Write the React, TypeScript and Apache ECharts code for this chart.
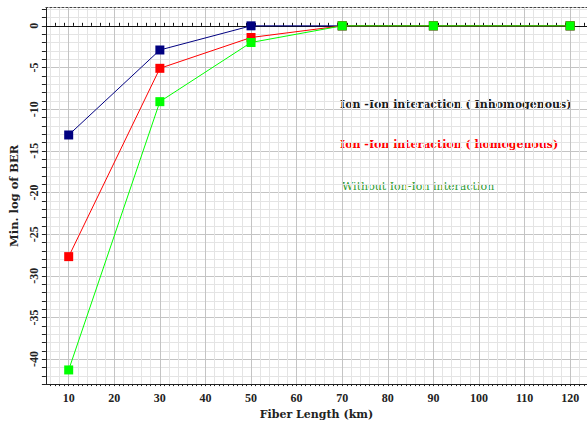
import React, { useEffect, useRef } from "react";
import * as echarts from "echarts";

const fiberLengths = [10, 30, 50, 70, 90, 120];
const inhomogenous = [-13.1, -2.9, 0, 0, 0, 0];
const homogenous = [-27.7, -5.1, -1.4, 0, 0, 0];
const withoutInteraction = [-41.3, -9.1, -2.0, 0, 0, 0];
const seriesNames = [
  "Ion -Ion interaction ( Inhomogenous)",
  "Ion -Ion interaction ( homogenous)",
  "Without Ion-Ion interaction",
];

const X_MIN = 5;
const X_MAX = 123.7;
const Y_MIN = -43;
const Y_MAX = 2.2;

const FONT = "'Liberation Serif', 'Times New Roman', serif";
const WIDE = "'DejaVu Serif', serif";
const MAJOR = "#c4c4c4";
const MINOR = "#e4e4e4";

export default function App() {
  const ref = useRef<HTMLDivElement>(null);
  useEffect(() => {
    document.body.style.margin = "0";
    const chart = echarts.init(ref.current!, null, { renderer: "svg" });
    const pts = (ys: number[]) => fiberLengths.map((x, i) => [x, ys[i]]);
    const mkSeries = (name: string, ys: number[], color: string) => ({
      name,
      type: "line",
      xAxisIndex: 0,
      yAxisIndex: 0,
      data: pts(ys),
      symbol: "rect",
      symbolSize: 9,
      lineStyle: { color, width: 1 },
      itemStyle: { color },
      emphasis: { disabled: true },
    });
    const xCommon = { type: "value", min: X_MIN, max: X_MAX, interval: 1 };
    chart.setOption({
      animation: false,
      backgroundColor: "#ffffff",
      grid: { left: 44, right: 0, top: 7.5, bottom: 35.5 },
      xAxis: [
        {
          ...xCommon,
          position: "bottom",
          name: "Fiber Length (km)",
          nameLocation: "middle",
          nameGap: 21,
          nameTextStyle: { fontFamily: WIDE, fontWeight: "bold", fontSize: 11, color: "#222" },
          axisLine: { onZero: false, lineStyle: { color: "#222", width: 1 } },
          axisTick: { show: true, length: 2, lineStyle: { color: "#222" } },
          axisLabel: {
            margin: 8,
            fontFamily: FONT,
            fontWeight: "bold",
            fontSize: 12,
            color: "#222",
            showMinLabel: false,
            showMaxLabel: false,
            formatter: (v: number) => (v % 10 === 0 ? String(v) : ""),
          },
          splitLine: {
            show: true,
            lineStyle: {
              width: 1,
              color: [
                "transparent", MINOR, "transparent", MINOR, "transparent",
                MAJOR, "transparent", MINOR, "transparent", MINOR,
              ],
            },
          },
        },
        {
          ...xCommon,
          position: "top",
          axisLine: { onZero: false, lineStyle: { color: "#444", width: 1, type: [2, 2] } },
          axisTick: { show: false },
          axisLabel: { show: false },
          splitLine: { show: false },
        },
        {
          type: "value",
          min: X_MIN,
          max: X_MAX,
          interval: 2,
          position: "bottom",
          axisLine: { onZero: true, lineStyle: { color: "#111", width: 1 } },
          axisTick: { show: true, length: 3, inside: true, lineStyle: { color: "#111" } },
          axisLabel: { show: false },
          splitLine: { show: false },
        },
      ],
      yAxis: {
        type: "value",
        min: Y_MIN,
        max: Y_MAX,
        interval: 1,
        name: "Min. log of BER",
        nameLocation: "middle",
        nameGap: 23,
        nameRotate: 90,
        nameTextStyle: { fontFamily: WIDE, fontWeight: "bold", fontSize: 11.5, color: "#222" },
        axisLine: { onZero: false, lineStyle: { color: "#222", width: 1 } },
        axisTick: { show: true, length: 4, lineStyle: { color: "#222" } },
        axisLabel: {
          rotate: 90,
          margin: 6,
          fontFamily: FONT,
          fontWeight: "bold",
          fontSize: 12,
          color: "#222",
          showMaxLabel: false,
          formatter: (v: number) => (v % 5 === 0 ? String(v) : ""),
        },
        splitLine: {
          show: true,
          lineStyle: { width: 1, color: [MINOR, MINOR, MINOR, MAJOR, MINOR] },
        },
      },
      series: [
        mkSeries(seriesNames[0], inhomogenous, "#000080"),
        mkSeries(seriesNames[1], homogenous, "#ff0000"),
        mkSeries(seriesNames[2], withoutInteraction, "#00ff00"),
      ],
      graphic: [
        {
          type: "text",
          left: 340,
          top: 99,
          style: { text: seriesNames[0], fontFamily: WIDE, fontWeight: "bold", fontSize: 11, fill: "#1a1a1a" },
        },
        {
          type: "text",
          left: 340,
          top: 139,
          style: { text: seriesNames[1], fontFamily: WIDE, fontWeight: "bold", fontSize: 11, fill: "#ff0000" },
        },
        {
          type: "text",
          left: 342,
          top: 181,
          style: { text: seriesNames[2], fontFamily: WIDE, fontSize: 11, fill: "#2e9a2e" },
        },
      ],
    });
    return () => chart.dispose();
  }, []);
  return (
    <div
      ref={ref}
      style={{ position: "absolute", left: 0, top: 0, width: 587, height: 425 }}
    />
  );
}
